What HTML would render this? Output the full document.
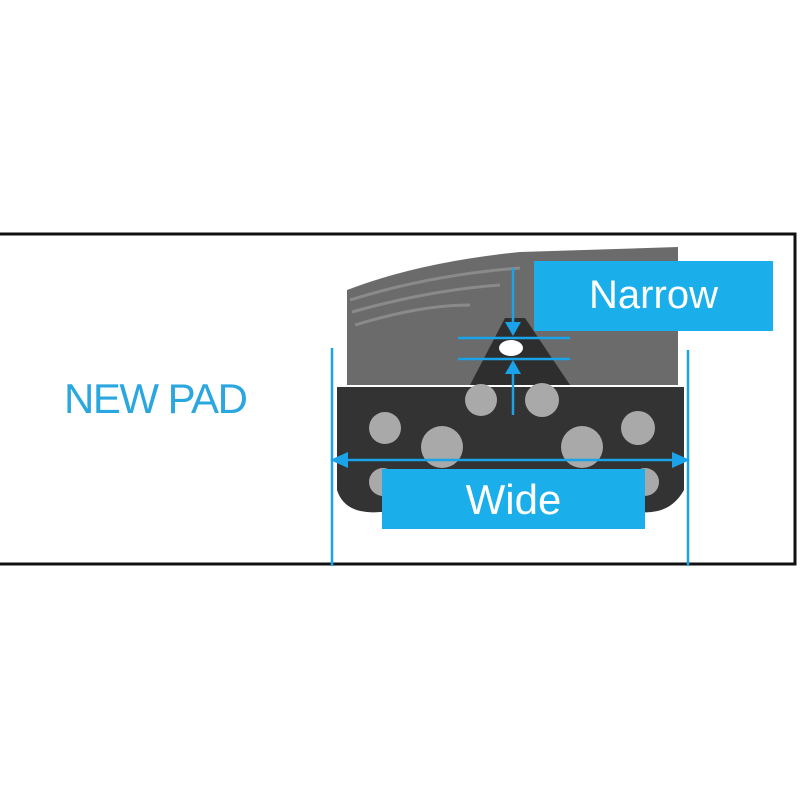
<!DOCTYPE html>
<html><head><style>
body{margin:0;background:#fff;width:800px;height:800px;overflow:hidden;position:relative;font-family:"Liberation Sans",sans-serif}
.t{position:absolute;color:#fff;text-align:center}
</style></head><body>
<svg width="800" height="800" style="position:absolute;left:0;top:0">
<rect x="-2" y="234" width="797" height="330" fill="none" stroke="#111" stroke-width="3"/>
<path d="M347 290 Q420 262 520 252 L678 247 L678 385 L347 385 Z" fill="#6b6b6b"/>
<path d="M350 300 Q430 275 520 268 M352 312 Q430 290 500 285 M355 325 Q420 305 470 305" stroke="#8a8a8a" stroke-width="3" fill="none"/>
<path d="M470 385 L505 318 L525 318 L570 385 Z" fill="#2e2e2e"/>
<path d="M337 387 L684 387 L684 490 Q670 515 640 512 L380 512 Q345 515 337 490 Z" fill="#333"/>
<g fill="#a9a9a9">
<circle cx="385" cy="428" r="16"/><circle cx="442" cy="447" r="21"/>
<circle cx="481" cy="400" r="16"/><circle cx="542" cy="400" r="17"/>
<circle cx="582" cy="447" r="21"/><circle cx="638" cy="428" r="17"/>
<circle cx="383" cy="482" r="14"/><circle cx="645" cy="482" r="14"/>
</g>
<ellipse cx="511" cy="348" rx="12" ry="8" fill="#fff"/>
<g stroke="#1aa3e8" stroke-width="2.5" fill="#1aa3e8">
<line x1="332" y1="348" x2="332" y2="566"/><line x1="688" y1="350" x2="688" y2="566"/>
<line x1="340" y1="460" x2="680" y2="460"/>
<line x1="458" y1="338" x2="570" y2="338"/><line x1="458" y1="359" x2="570" y2="359"/>
<line x1="513" y1="268" x2="513" y2="325"/><line x1="513" y1="372" x2="513" y2="415"/>
</g>
<g fill="#1aa3e8">
<polygon points="330,460 348,452 348,468"/><polygon points="690,460 672,452 672,468"/>
<polygon points="513,336 505,322 521,322"/><polygon points="513,360 505,374 521,374"/>
</g>
<rect x="534" y="261" width="239" height="70" fill="#1aaeeb"/>
<rect x="382" y="469" width="263" height="60" fill="#1aaeeb"/>
</svg>
<div class="t" style="left:534px;top:270px;width:239px;font-size:40px;line-height:50px">Narrow</div>
<div class="t" style="left:382px;top:474px;width:263px;font-size:42px;line-height:52px">Wide</div>
<div style="position:absolute;left:64px;top:375px;font-size:42px;line-height:48px;color:#2aa7df;letter-spacing:-1.5px">NEW PAD</div>
</body></html>
